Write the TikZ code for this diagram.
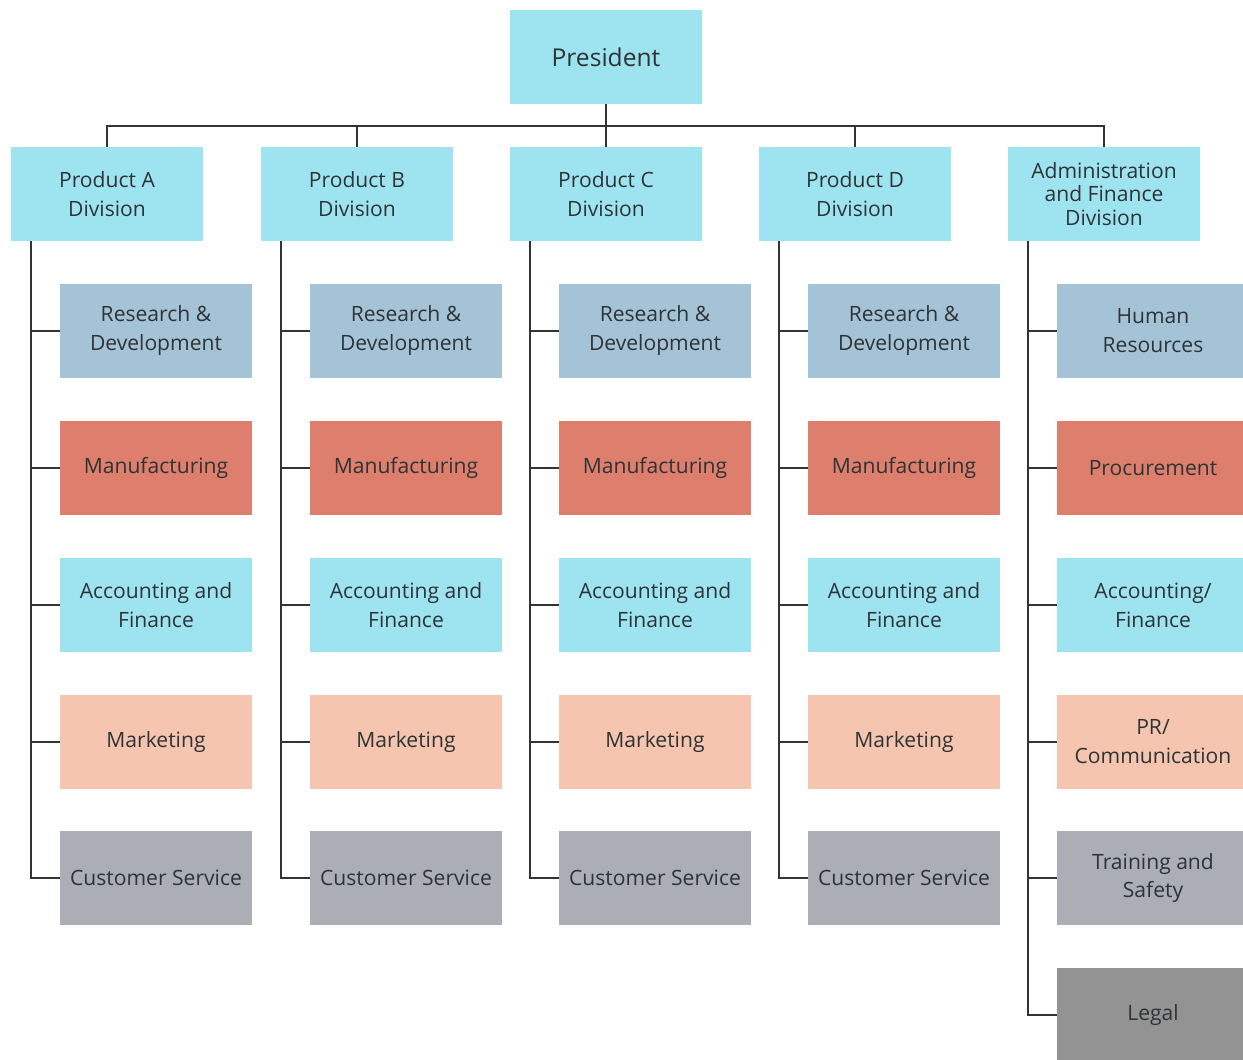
\documentclass[tikz,border=0pt]{standalone}
\usepackage{fontspec}
\setmainfont{Open Sans}
\usetikzlibrary{positioning}

\definecolor{boxcyan}{HTML}{9EE4F0}
\definecolor{boxsteel}{HTML}{A5C3D6}
\definecolor{boxbrick}{HTML}{DE7E6C}
\definecolor{boxpeach}{HTML}{F6C5AF}
\definecolor{boxgray}{HTML}{ABAEB5}
\definecolor{boxslate}{HTML}{939393}
\definecolor{inktext}{HTML}{2E3436}
\definecolor{linkgray}{HTML}{333333}

\tikzset{
  unit/.style={minimum width=3.84cm, minimum height=1.88cm, inner sep=0pt,
    align=center, text=inktext, font=\fontsize{12}{16.5}\selectfont},
  link/.style={draw=linkgray, line width=1.1pt},
}

\begin{document}
\begin{tikzpicture}[x=0.02cm, y=-0.02cm]
\useasboundingbox (0,0) rectangle (1243,1059);
\clip (0,0) rectangle (1243,1059);

% Vertice
\node[unit, fill=boxcyan, font=\fontsize{14}{17}\selectfont] (pres) at (606,57) {President};

% Divisioni di prodotto
\foreach \col/\cx in {A/107, B/357, C/606, D/855} {
  \node[unit, fill=boxcyan] (div\col) at (\cx,194) {Product \col\\Division};
  \node[unit, fill=boxsteel] (rd\col) at (\cx+49,331) {Research \&\\Development};
  \node[unit, fill=boxbrick] (mfg\col) at (\cx+49,468) {Manufacturing};
  \node[unit, fill=boxcyan] (acc\col) at (\cx+49,605) {Accounting and\\Finance};
  \node[unit, fill=boxpeach] (mkt\col) at (\cx+49,742) {Marketing};
  \node[unit, fill=boxgray] (cs\col) at (\cx+49,878) {Customer Service};
  \draw[link] (pres.south) -- ++(0,22) -| (div\col.north);
  \draw[link] (div\col.south west) ++(20,0) |- (rd\col.west);
  \draw[link] (div\col.south west) ++(20,0) |- (mfg\col.west);
  \draw[link] (div\col.south west) ++(20,0) |- (acc\col.west);
  \draw[link] (div\col.south west) ++(20,0) |- (mkt\col.west);
  \draw[link] (div\col.south west) ++(20,0) |- (cs\col.west);
}

% Amministrazione e finanza
\node[unit, fill=boxcyan, font=\fontsize{12}{13.2}\selectfont] (divE) at (1104,194) {Administration\\and Finance\\Division};
\node[unit, fill=boxsteel] (hr) at (1153,331) {Human\\Resources};
\node[unit, fill=boxbrick] (proc) at (1153,468) {Procurement};
\node[unit, fill=boxcyan] (accE) at (1153,605) {Accounting/\\Finance};
\node[unit, fill=boxpeach] (pr) at (1153,742) {PR/\\Communication};
\node[unit, fill=boxgray] (train) at (1153,878) {Training and\\Safety};
\node[unit, fill=boxslate] (legal) at (1153,1015) {Legal};

\draw[link] (pres.south) -- ++(0,22) -| (divE.north);
\foreach \kid in {hr, proc, accE, pr, train, legal}
  \draw[link] (divE.south west) ++(20,0) |- (\kid.west);

\end{tikzpicture}
\end{document}
